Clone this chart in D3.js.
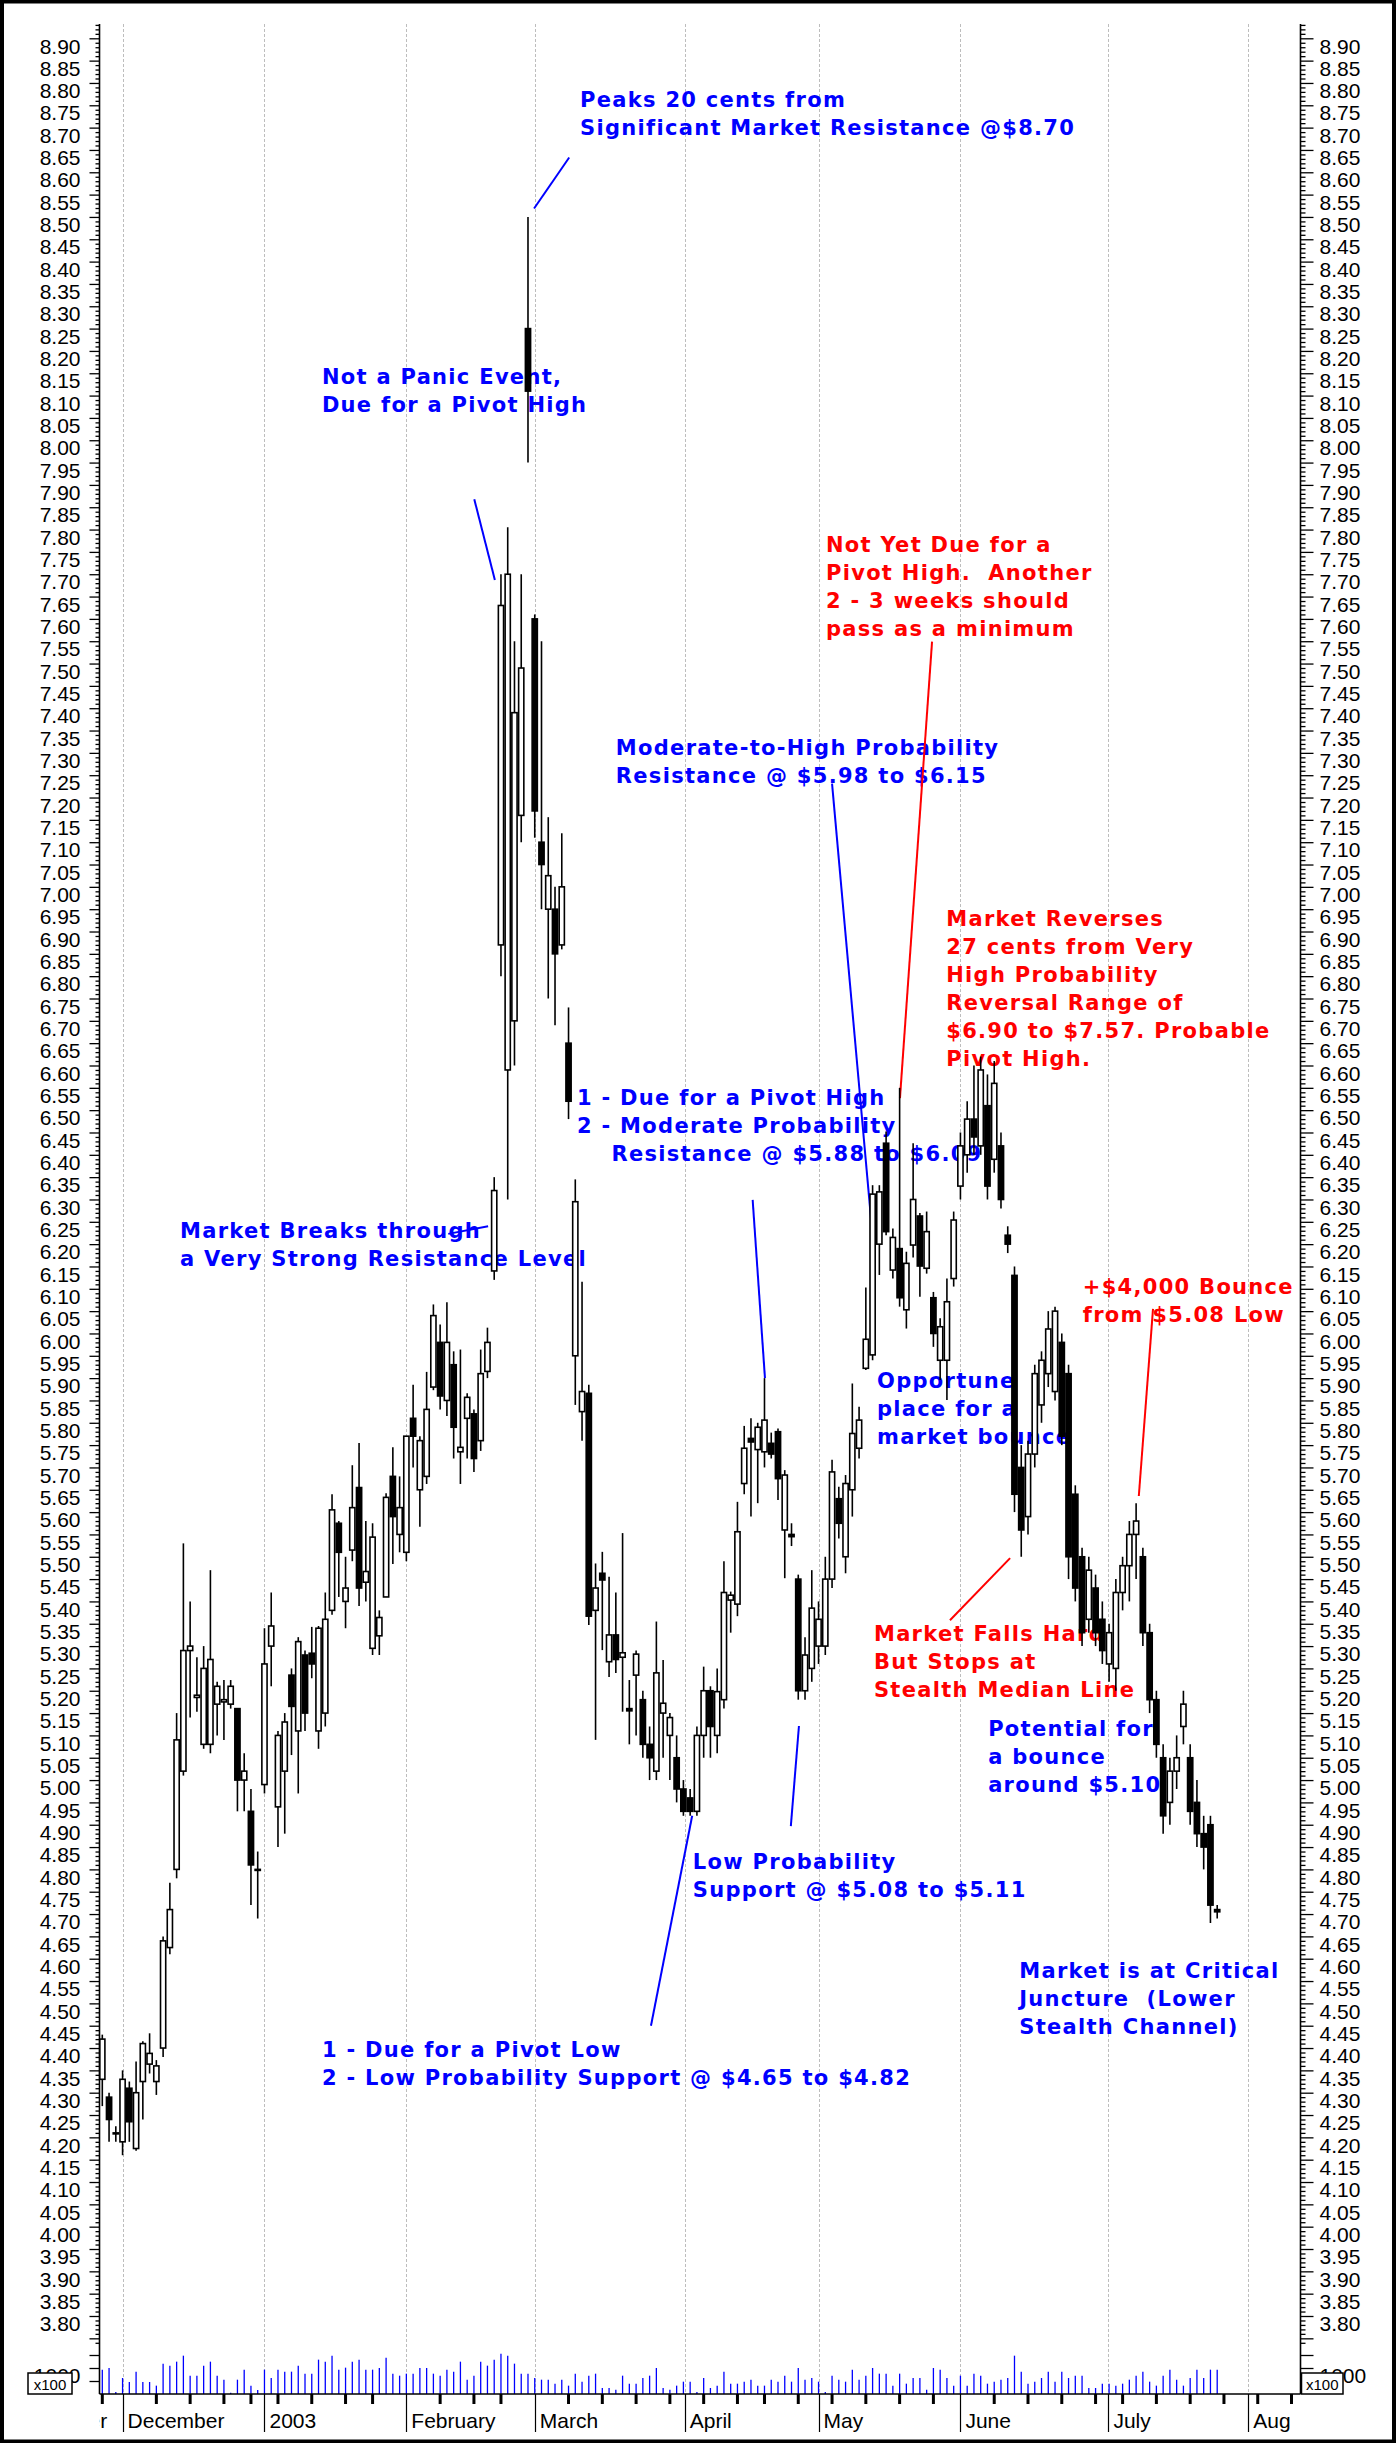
<!DOCTYPE html>
<html>
<head>
<meta charset="utf-8">
<script src="https://cdn.jsdelivr.net/npm/d3@7"></script>
<style>
  body { margin: 0; background: #fff; }
  svg { display: block; }
</style>
</head>
<body>
<div id="chart"></div>
<script>
// ---- data ----
// daily bars, 26 Nov 2002 .. 25 Jul 2003, index 0..165
const opens = [4.33,4.29,4.21,4.19,4.31,4.175,4.325,4.364,4.325,4.40,
  4.625,4.80,5.02,5.29,5.185,5.08,5.08,5.17,5.175,5.17,
  5.16,5.00,4.93,4.80,4.99,5.30,4.94,5.02,5.235,5.11,
  5.28,5.284,5.11,5.15,5.38,5.575,5.40,5.515,5.655,5.443,
  5.295,5.323,5.41,5.68,5.55,5.51,5.81,5.65,5.68,5.88,
  5.98,5.85,5.93,5.735,5.81,5.82,5.76,5.915,6.14,6.87,
  6.59,6.70,7.16,8.25,7.60,7.10,6.95,6.95,6.87,6.65,
  5.95,5.825,5.866,5.38,5.463,5.265,5.325,5.275,5.16,5.235,
  5.18,5.08,5.02,5.15,5.10,5.05,4.98,4.96,4.93,5.10,
  5.20,5.10,5.18,5.403,5.394,5.664,5.765,5.74,5.735,5.754,
  5.78,5.56,5.55,5.45,5.20,5.25,5.30,5.30,5.45,5.63,
  5.50,5.65,5.743,5.922,5.952,6.20,6.426,6.142,6.19,6.053,
  6.198,6.263,6.146,6.08,5.94,5.94,6.123,6.33,6.40,6.48,
  6.42,6.51,6.39,6.42,6.22,6.13,5.70,5.59,5.73,5.84,
  5.91,5.87,5.98,5.91,5.64,5.50,5.36,5.43,5.36,5.26,
  5.25,5.42,5.48,5.55,5.50,5.33,5.18,5.05,4.95,5.02,
  5.12,5.05,4.95,4.88,4.90,4.71];
const highs = [4.43,4.30,4.225,4.35,4.325,4.37,4.415,4.433,4.373,4.65,
  4.77,5.15,5.53,5.40,5.275,5.30,5.47,5.22,5.224,5.224,
  5.16,5.06,4.98,4.84,5.34,5.42,5.11,5.15,5.25,5.32,
  5.29,5.343,5.345,5.42,5.64,5.58,5.50,5.705,5.755,5.58,
  5.575,5.38,5.642,5.745,5.68,5.77,5.885,5.77,5.914,6.065,
  6.02,6.07,5.96,5.964,5.866,5.83,5.964,6.013,6.35,7.70,
  7.805,7.55,7.70,8.50,7.61,7.55,7.156,7.00,7.12,6.73,
  6.345,6.116,5.885,5.485,5.511,5.455,5.42,5.553,5.224,5.29,
  5.20,5.12,5.355,5.269,5.15,5.10,5.00,4.98,5.12,5.254,
  5.21,5.25,5.49,5.422,5.623,5.793,5.81,5.80,5.90,5.778,
  5.787,5.694,5.575,5.46,5.32,5.47,5.40,5.50,5.717,5.657,
  5.683,5.888,5.836,6.103,6.332,6.332,6.452,6.235,6.55,6.183,
  6.426,6.27,6.273,6.093,6.034,6.123,6.273,6.45,6.52,6.60,
  6.62,6.58,6.61,6.45,6.24,6.15,5.75,5.76,5.93,5.96,
  6.05,6.06,6.00,5.93,5.66,5.52,5.50,5.46,5.40,5.35,
  5.45,5.50,5.58,5.62,5.52,5.35,5.20,5.08,5.05,5.10,
  5.20,5.08,5.00,4.92,4.92,4.72];
const lows = [4.27,4.19,4.19,4.16,4.19,4.17,4.24,4.343,4.295,4.38,
  4.61,4.78,5.01,5.14,5.153,5.07,5.06,5.10,5.09,5.16,
  4.93,4.93,4.72,4.69,4.97,5.21,4.85,4.88,5.056,4.97,
  5.11,5.228,5.07,5.12,5.37,5.41,5.34,5.49,5.39,5.40,
  5.28,5.28,5.41,5.484,5.51,5.49,5.70,5.567,5.663,5.873,
  5.83,5.815,5.72,5.663,5.72,5.69,5.737,5.90,6.12,6.80,
  6.30,6.60,7.10,7.95,7.11,6.95,6.75,6.69,6.86,6.48,
  5.84,5.76,5.347,5.09,5.291,5.231,5.24,5.153,5.08,5.10,
  5.05,5.00,5.00,5.05,5.00,4.95,4.92,4.92,4.92,5.05,
  5.05,5.06,5.16,5.33,5.367,5.64,5.59,5.62,5.70,5.72,
  5.627,5.452,5.524,5.18,5.18,5.22,5.26,5.28,5.43,5.541,
  5.463,5.59,5.72,5.918,5.94,6.131,6.22,6.123,6.06,6.011,
  6.17,6.082,6.134,5.97,5.896,5.851,6.105,6.30,6.36,6.40,
  6.40,6.30,6.36,6.28,6.18,5.60,5.50,5.55,5.70,5.80,
  5.88,5.85,5.75,5.45,5.40,5.30,5.33,5.30,5.26,5.22,
  5.20,5.38,5.40,5.45,5.30,5.15,5.05,4.88,4.90,4.98,
  5.08,4.90,4.85,4.80,4.68,4.69];
const closes = [4.42,4.24,4.21,4.33,4.235,4.30,4.41,4.388,4.36,4.64,
  4.71,5.09,5.29,5.30,5.19,5.25,5.27,5.21,5.18,5.21,
  5.00,5.02,4.81,4.80,5.26,5.345,5.10,5.13,5.165,5.31,
  5.15,5.26,5.34,5.36,5.605,5.51,5.43,5.61,5.43,5.467,
  5.544,5.364,5.633,5.59,5.61,5.77,5.77,5.76,5.83,6.04,
  5.86,5.98,5.79,5.745,5.857,5.72,5.91,5.98,6.32,7.63,
  7.70,7.39,7.49,8.11,7.17,7.05,7.025,6.85,7.00,6.52,
  6.295,5.87,5.367,5.43,5.448,5.325,5.27,5.285,5.155,5.282,
  5.08,5.05,5.24,5.172,5.14,4.98,4.93,4.93,5.10,5.20,
  5.12,5.198,5.42,5.414,5.556,5.743,5.757,5.79,5.806,5.73,
  5.675,5.683,5.545,5.20,5.28,5.385,5.36,5.45,5.69,5.575,
  5.664,5.776,5.806,5.987,6.312,6.317,6.228,6.215,6.08,6.157,
  6.30,6.151,6.228,6.00,6.015,6.071,6.254,6.42,6.48,6.44,
  6.59,6.33,6.56,6.30,6.20,5.64,5.56,5.73,5.91,5.94,
  6.01,6.05,5.77,5.50,5.43,5.33,5.47,5.33,5.29,5.33,
  5.42,5.48,5.55,5.58,5.33,5.18,5.08,4.92,5.02,5.05,
  5.17,4.93,4.88,4.85,4.72,4.705];
// volume, in hundreds of shares
const volumes = [936,1000,77,615,462,859,462,462,321,1167,
  1090,1244,1474,705,705,1090,1244,705,551,50,
  551,936,321,154,936,615,936,859,859,1090,
  782,782,1321,1244,1474,936,1013,1244,1321,936,
  936,1000,1397,782,705,782,782,1000,1000,782,
  705,936,859,1244,551,705,1244,1090,1321,1551,
  1474,1167,782,782,615,551,551,397,551,321,
  782,474,705,782,231,231,167,705,397,397,
  615,705,1000,231,167,321,474,474,77,615,
  231,321,859,397,397,474,551,321,321,551,
  474,705,474,1000,551,615,474,77,705,551,
  474,936,551,705,1000,782,782,321,782,397,
  615,615,167,1000,936,615,321,705,321,782,
  705,397,474,551,615,1474,859,397,474,615,
  859,474,859,615,705,705,231,231,397,397,
  321,397,551,705,859,474,321,705,936,551,
  321,615,936,615,936,936];

// date axis: bar index where each month starts, and first bar of each week
const monthNames = ["December", "2003", "February", "March", "April", "May", "June", "July", "Aug"];
const monthStarts = [3, 24, 45, 64, 86.2, 106, 127, 148.9, 169.6];
const weekStarts = [0, 8, 13, 18, 22, 26, 31, 36, 40, 50, 55, 59, 69, 74, 79, 84, 89, 94, 98, 103,
  108, 113, 118, 123, 132, 137, 142, 147, 151, 156, 161, 166, 171, 176];

// price axis ticks
const priceMajor = d3.range(375, 895, 5).map(d => d / 100);
const priceMinor = d3.range(374, 894).map(d => d / 100).filter(d => Math.round(d * 100) % 5 !== 0);
const volumeTicks = [500, 1000, 1500];

// notes written on the chart, anchored in (bar, price) units
const notes = [
  {lines: ["Peaks 20 cents from", "Significant Market Resistance @$8.70"], bar: 70.7, price: 8.746, color: "blue"},
  {lines: ["Not a Panic Event,", "Due for a Pivot High"], bar: 32.5, price: 8.126, color: "blue"},
  {lines: ["Not Yet Due for a", "Pivot High.  Another", "2 - 3 weeks should", "pass as a minimum"], bar: 107.1, price: 7.75, color: "red"},
  {lines: ["Moderate-to-High Probability", "Resistance @ $5.98 to $6.15"], bar: 76.0, price: 7.296, color: "blue"},
  {lines: ["Market Reverses", "27 cents from Very", "High Probability", "Reversal Range of", "$6.90 to $7.57. Probable", "Pivot High."], bar: 124.9, price: 6.912, color: "red"},
  {lines: ["1 - Due for a Pivot High", "2 - Moderate Probability", "    Resistance @ $5.88 to $6.09"], bar: 70.25, price: 6.511, color: "blue"},
  {lines: ["Market Breaks through", "a Very Strong Resistance Level"], bar: 11.5, price: 6.214, color: "blue"},
  {lines: ["Opportune", "place for a", "market bounce"], bar: 114.65, price: 5.878, color: "blue"},
  {lines: ["+$4,000 Bounce", "from $5.08 Low"], bar: 145.1, price: 6.089, color: "red"},
  {lines: ["Market Falls Hard", "But Stops at", "Stealth Median Line"], bar: 114.2, price: 5.311, color: "red"},
  {lines: ["Potential for", "a bounce", "around $5.10"], bar: 131.1, price: 5.099, color: "blue"},
  {lines: ["Low Probability", "Support @ $5.08 to $5.11"], bar: 87.4, price: 4.80, color: "blue"},
  {lines: ["1 - Due for a Pivot Low", "2 - Low Probability Support @ $4.65 to $4.82"], bar: 32.5, price: 4.38, color: "blue"},
  {lines: ["Market is at Critical", "Juncture  (Lower", "Stealth Channel)"], bar: 135.7, price: 4.557, color: "blue"}
];
// pointer lines: [bar1, price1, bar2, price2]
const pointers = [
  {seg: [69.1, 8.633, 63.9, 8.519], color: "blue"},
  {seg: [55.05, 7.868, 58.1, 7.687], color: "blue"},
  {seg: [122.8, 7.549, 118.05, 6.527], color: "red"},
  {seg: [108.0, 7.231, 114.35, 6.158], color: "blue"},
  {seg: [96.25, 6.299, 98.07, 5.900], color: "blue"},
  {seg: [51.2, 6.223, 57.1, 6.240], color: "blue"},
  {seg: [155.5, 6.055, 153.4, 5.636], color: "red"},
  {seg: [125.45, 5.358, 134.35, 5.497], color: "red"},
  {seg: [101.9, 4.897, 103.1, 5.121], color: "blue"},
  {seg: [81.2, 4.45, 87.3, 4.92], color: "blue"}
];

// ---- layout ----
const W = 1396, H = 2443;
const plotL = 99.5, plotR = 1300.5, plotT = 24, base = 2394;

const svg = d3.select("#chart").append("svg")
  .attr("width", W).attr("height", H)
  .style("font-family", "'Liberation Sans', Arial, sans-serif");

const x = d3.scaleLinear().domain([0, 165]).range([102.3, 1217.2]);
const y = d3.scaleLinear().domain([3.80, 8.90]).range([2316, 38.3]);
const yVol = d3.scaleLinear().domain([0, 1000]).range([base, 2368]);

// frame
svg.append("rect").attr("x", 2).attr("y", 1.5).attr("width", W - 4).attr("height", H - 3)
  .attr("fill", "none").attr("stroke", "#000").attr("stroke-width", 4);

// month gridlines
svg.append("g").selectAll("line").data(monthStarts).join("line")
  .attr("x1", d => Math.round(x(d)) + 0.5).attr("x2", d => Math.round(x(d)) + 0.5)
  .attr("y1", plotT).attr("y2", base)
  .attr("stroke", "#bdbdbd").attr("stroke-width", 1).attr("stroke-dasharray", "3,2");

// volume
const idx = d3.range(opens.length);
svg.append("g").selectAll("line").data(idx).join("line")
  .attr("x1", i => x(i)).attr("x2", i => x(i))
  .attr("y1", yVol(0)).attr("y2", i => yVol(volumes[i]))
  .attr("stroke", "#0000ff").attr("stroke-width", 1.3);

// notes (under the candles)
const noteG = svg.append("g")
  .style("font-family", "'DejaVu Sans', Verdana, sans-serif")
  .style("font-weight", "bold").style("font-size", "21px")
  .style("letter-spacing", "1.3px");
notes.forEach(n => {
  const t = noteG.append("text").attr("fill", n.color === "red" ? "#ff0000" : "#0000ff")
    .attr("xml:space", "preserve").style("white-space", "pre");
  n.lines.forEach((ln, k) => {
    t.append("tspan").attr("x", x(n.bar)).attr("y", y(n.price) + k * 28).text(ln);
  });
});
svg.append("g").selectAll("line").data(pointers).join("line")
  .attr("x1", d => x(d.seg[0])).attr("y1", d => y(d.seg[1]))
  .attr("x2", d => x(d.seg[2])).attr("y2", d => y(d.seg[3]))
  .attr("stroke", d => d.color === "red" ? "#ff0000" : "#0000ff").attr("stroke-width", 2);

// candles
const cg = svg.append("g");
cg.selectAll("line").data(idx).join("line")
  .attr("x1", i => x(i)).attr("x2", i => x(i))
  .attr("y1", i => y(highs[i])).attr("y2", i => y(lows[i]))
  .attr("stroke", "#000").attr("stroke-width", 1.6);
cg.selectAll("rect").data(idx).join("rect")
  .attr("x", i => x(i) - 2.6).attr("width", 5.2)
  .attr("y", i => y(Math.max(opens[i], closes[i])))
  .attr("height", i => Math.max(1, Math.abs(y(opens[i]) - y(closes[i]))))
  .attr("fill", i => closes[i] >= opens[i] ? "#fff" : "#000")
  .attr("stroke", "#000").attr("stroke-width", 1.6);

// price axes
function styleAxis(g) {
  g.select(".domain").remove();
  g.selectAll("line").attr("stroke", "#000").attr("stroke-width", 1.3);
  g.selectAll("text").attr("font-size", 21).attr("fill", "#000")
    .attr("font-family", "'Liberation Sans', Arial, sans-serif").attr("dy", "0.70em");
}
const fmt = d => d < 3.78 ? "" : d3.format(".2f")(d);
svg.append("g").attr("transform", `translate(${plotL},0)`)
  .call(d3.axisLeft(y).tickValues(priceMinor).tickSize(4).tickFormat(""))
  .call(styleAxis);
svg.append("g").attr("transform", `translate(${plotL},0)`)
  .call(d3.axisLeft(y).tickValues(priceMajor).tickSize(10).tickPadding(9).tickFormat(fmt))
  .call(styleAxis);
svg.append("g").attr("transform", `translate(${plotR},0)`)
  .call(d3.axisRight(y).tickValues(priceMinor).tickSize(5).tickFormat(""))
  .call(styleAxis);
svg.append("g").attr("transform", `translate(${plotR},0)`)
  .call(d3.axisRight(y).tickValues(priceMajor).tickSize(13).tickPadding(6).tickFormat(fmt))
  .call(styleAxis);

// volume axis ticks and "1000 / x100" tags
svg.append("g").attr("transform", `translate(${plotL},0)`)
  .call(d3.axisLeft(yVol).tickValues(volumeTicks).tickSize(10).tickPadding(9)
    .tickFormat(d => d === 1000 ? "1000" : ""))
  .call(styleAxis);
svg.append("g").attr("transform", `translate(${plotR},0)`)
  .call(d3.axisRight(yVol).tickValues(volumeTicks).tickSize(13).tickPadding(6)
    .tickFormat(d => d === 1000 ? "1000" : ""))
  .call(styleAxis);
[[28, 72], [1301.5, 1343]].forEach(([a, b]) => {
  svg.append("rect").attr("x", a).attr("y", 2373).attr("width", b - a).attr("height", base - 2373)
    .attr("fill", "#fff").attr("stroke", "#000").attr("stroke-width", 1.5);
  svg.append("text").attr("x", (a + b) / 2).attr("y", 2390).attr("text-anchor", "middle")
    .attr("font-size", 15).text("x100");
});

// axis lines
svg.append("line").attr("x1", plotL).attr("x2", plotL).attr("y1", plotT).attr("y2", base)
  .attr("stroke", "#000").attr("stroke-width", 1.6);
svg.append("line").attr("x1", plotR).attr("x2", plotR).attr("y1", plotT).attr("y2", base)
  .attr("stroke", "#000").attr("stroke-width", 1.6);
svg.append("line").attr("x1", plotL).attr("x2", plotR).attr("y1", base).attr("y2", base)
  .attr("stroke", "#000").attr("stroke-width", 1.6);

// date axis
svg.append("g").selectAll("line").data(weekStarts.filter(w => x(w) < plotR)).join("line")
  .attr("x1", d => x(d)).attr("x2", d => x(d)).attr("y1", base).attr("y2", base + 10)
  .attr("stroke", "#000").attr("stroke-width", 3);
svg.append("g").selectAll("line").data(monthStarts).join("line")
  .attr("x1", d => Math.round(x(d)) + 0.5).attr("x2", d => Math.round(x(d)) + 0.5)
  .attr("y1", base).attr("y2", base + 38)
  .attr("stroke", "#000").attr("stroke-width", 1.2);
svg.append("g").selectAll("text").data(monthStarts).join("text")
  .attr("x", d => x(d) + 5).attr("y", base + 34)
  .attr("font-size", 21).text((d, i) => monthNames[i]);
// tail of the November label, cut at the axis
svg.append("clipPath").attr("id", "nov").append("rect")
  .attr("x", plotL).attr("y", base).attr("width", 20).attr("height", 45);
svg.append("text").attr("clip-path", "url(#nov)")
  .attr("x", x(0) + 5).attr("y", base + 34).attr("text-anchor", "end")
  .attr("font-size", 21).text("November");
</script>
</body>
</html>
